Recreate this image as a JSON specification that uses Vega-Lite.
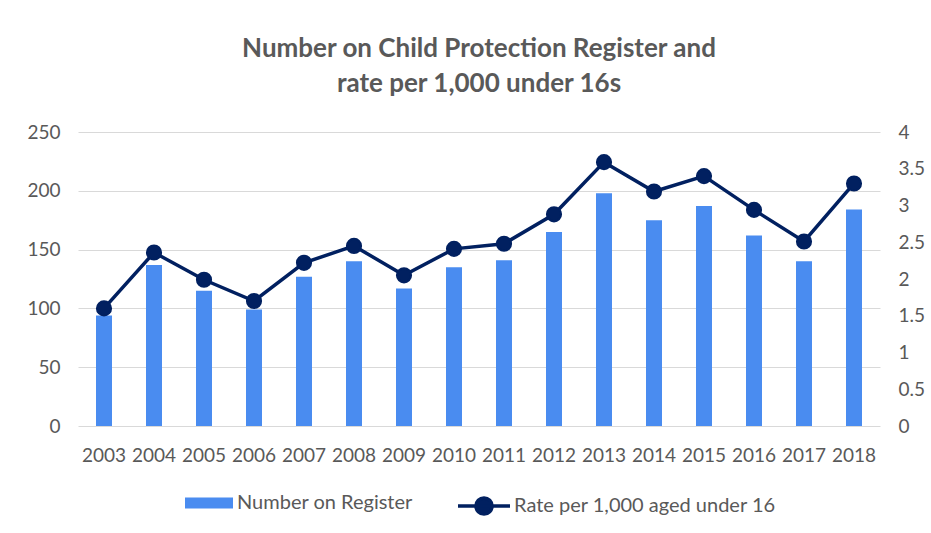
{
  "$schema": "https://vega.github.io/schema/vega-lite/v6.json",
  "width": 802,
  "height": 294,
  "autosize": {"type": "none"},
  "padding": {"left": 78, "top": 132, "right": 51, "bottom": 107},
  "background": "white",
  "title": {
    "text": ["Number on Child Protection Register and", "rate per 1,000 under 16s"],
    "font": "Lato",
    "fontSize": 26,
    "fontWeight": "bold",
    "color": "#595959",
    "lineHeight": 35,
    "offset": 26,
    "anchor": "middle"
  },
  "config": {
    "view": {"stroke": null},
    "axis": {"labelFont": "Lato", "labelFontSize": 19, "labelColor": "#595959", "ticks": false, "domain": false, "title": null},
    "legend": {"labelFont": "Lato", "labelFontSize": 20, "labelColor": "#595959", "padding": 0, "title": null, "labelLimit": 500}
  },
  "data": {
    "values": [
      {"year": "2003", "number": 94, "rate": 1.60},
      {"year": "2004", "number": 137, "rate": 2.36},
      {"year": "2005", "number": 115, "rate": 1.99},
      {"year": "2006", "number": 99, "rate": 1.70},
      {"year": "2007", "number": 127, "rate": 2.22},
      {"year": "2008", "number": 140, "rate": 2.45},
      {"year": "2009", "number": 117, "rate": 2.05},
      {"year": "2010", "number": 135, "rate": 2.41},
      {"year": "2011", "number": 141, "rate": 2.48},
      {"year": "2012", "number": 165, "rate": 2.88},
      {"year": "2013", "number": 198, "rate": 3.59},
      {"year": "2014", "number": 175, "rate": 3.19},
      {"year": "2015", "number": 187, "rate": 3.40},
      {"year": "2016", "number": 162, "rate": 2.94},
      {"year": "2017", "number": 140, "rate": 2.51},
      {"year": "2018", "number": 184, "rate": 3.30}
    ]
  },
  "encoding": {
    "x": {
      "field": "year",
      "type": "ordinal",
      "scale": {"paddingInner": 0.68, "paddingOuter": 0.36},
      "axis": {"labelAngle": 0, "labelPadding": 20, "grid": false}
    }
  },
  "layer": [
    {
      "mark": {"type": "bar"},
      "encoding": {
        "y": {
          "field": "number",
          "type": "quantitative",
          "scale": {"domain": [0, 250]},
          "axis": {"orient": "left", "values": [0, 50, 100, 150, 200, 250], "grid": true, "gridColor": "#d9d9d9", "gridWidth": 1.2, "labelPadding": 18}
        },
        "fill": {
          "datum": "Number on Register",
          "type": "nominal",
          "scale": {"range": ["#4a8cf0"]},
          "legend": {
            "orient": "none",
            "legendX": 107,
            "legendY": 347,
            "symbolType": "M-1,-0.23H1V0.23H-1Z",
            "symbolSize": 2304,
            "symbolStrokeWidth": 0,
            "labelOffset": 4
          }
        }
      }
    },
    {
      "mark": {"type": "line", "strokeWidth": 3.5, "point": {"filled": true, "fill": "#012060", "size": 200, "opacity": 1}},
      "encoding": {
        "y": {
          "field": "rate",
          "type": "quantitative",
          "scale": {"domain": [0, 4]},
          "axis": {"orient": "right", "values": [0, 0.5, 1, 1.5, 2, 2.5, 3, 3.5, 4], "format": "~g", "grid": false, "labelPadding": 18}
        },
        "stroke": {
          "datum": "Rate per 1,000 aged under 16",
          "type": "nominal",
          "scale": {"range": ["#012060"]},
          "legend": {
            "orient": "none",
            "legendX": 378,
            "legendY": 346,
            "symbolType": "M-1,0H1M0.31,0A0.31,0.31 0 1,1 -0.31,0A0.31,0.31 0 1,1 0.31,0Z",
            "symbolSize": 2704,
            "symbolStrokeWidth": 3.5,
            "symbolFillColor": "#012060",
            "labelOffset": 2,
            "encode": {"symbols": {"update": {"fill": {"value": "#012060"}}}}
          }
        }
      }
    }
  ],
  "resolve": {"scale": {"y": "independent", "fill": "independent", "stroke": "independent"}}
}
